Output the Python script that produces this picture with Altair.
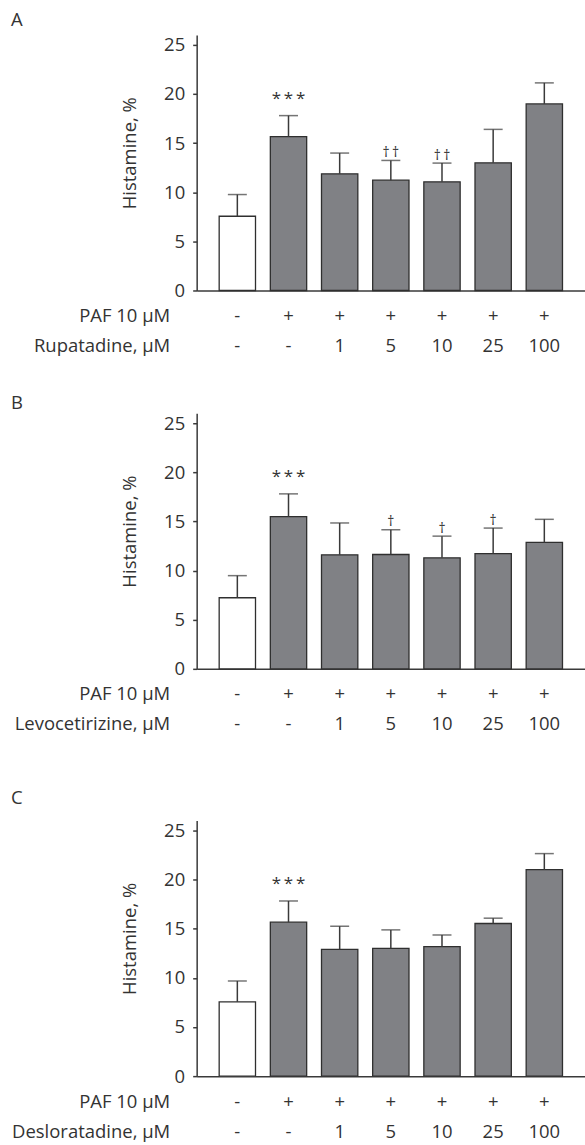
import altair as alt
import pandas as pd

FONT = "Open Sans"
FS = 18.5
TEXT = "#333333"
AXIS = "#3a3a3a"
BAR_FILL = "#808185"
CTRL_FILL = "#ffffff"
H = 256

# Treatment rows (shared by all panels)
paf_row = ["-", "+", "+", "+", "+", "+", "+"]
dose_row = ["-", "-", "1", "5", "10", "25", "100"]

# Panel A: Rupatadine
rupatadine_mean = [7.55, 15.65, 11.87, 11.22, 11.05, 12.99, 18.98]
rupatadine_err = [2.21, 2.14, 2.11, 2.01, 1.91, 3.40, 2.14]
rupatadine_stars = ["", "***", "", "", "", "", ""]
rupatadine_dagger = ["", "", "", "††", "††", "", ""]

# Panel B: Levocetirizine
levocetirizine_mean = [7.23, 15.48, 11.60, 11.63, 11.29, 11.73, 12.86]
levocetirizine_err = [2.25, 2.32, 3.24, 2.52, 2.21, 2.59, 2.35]
levocetirizine_stars = ["", "***", "", "", "", "", ""]
levocetirizine_dagger = ["", "", "", "†", "†", "†", ""]

# Panel C: Desloratadine
desloratadine_mean = [7.56, 15.66, 12.89, 13.00, 13.17, 15.53, 21.00]
desloratadine_err = [2.12, 2.16, 2.36, 1.88, 1.19, 0.54, 1.64]
desloratadine_stars = ["", "***", "", "", "", "", ""]
desloratadine_dagger = ["", "", "", "", "", "", ""]

y_ticks = [0, 5, 10, 15, 20, 25]


def panel(letter, drug, means, errs, stars, daggers, title_offset):
    cats = [f"{p}|{d}" for p, d in zip(paf_row, dose_row)]
    df = pd.DataFrame({
        "cat": cats,
        "mean": means,
        "top": [m + e for m, e in zip(means, errs)],
        "stars": [s.replace("*", "*\u2009").strip() for s in stars],
        "dagger": ["\u2009".join(list(d)) for d in daggers],
        "ctrl": [i == 0 for i in range(len(cats))],
    })
    x = alt.X(
        "cat:N",
        sort=cats,
        scale=alt.Scale(paddingInner=0.29, paddingOuter=0.44),
        axis=alt.Axis(
            title=["PAF 10 μM", f"{drug}, μM"],
            titleAngle=0, titleAlign="right", titleBaseline="top",
            titleX=-27, titleY=16, titleLineHeight=30,
            titleFontSize=FS, titleFontWeight="normal", titleFont=FONT, titleColor=TEXT,
            labelExpr="split(datum.label, '|')",
            labelAngle=0, labelLineHeight=30, labelBaseline="top", labelPadding=16,
            labelFontSize=FS, labelFont=FONT, labelColor=TEXT, labelOverlap=False,
            labelBound=False,
            ticks=False, tickSize=0,
            domainColor=AXIS, domainWidth=1.5, grid=False,
        ),
    )
    y_axis = alt.Axis(
        values=y_ticks, title="Histamine, %",
        titleX=-67, titleY=118, titleAlign="center", titleBaseline="middle",
        titleFontSize=FS, titleFontWeight="normal", titleFont=FONT, titleColor=TEXT,
        labelFontSize=FS, labelFont=FONT, labelColor=TEXT, labelPadding=8,
        labelFlush=False, labelOverlap=False,
        tickSize=4, tickColor=AXIS, tickWidth=1.5,
        domainColor=AXIS, domainWidth=1.5, grid=False,
    )
    base = alt.Chart(df)
    bars = base.mark_bar(stroke="#2f2f2f", strokeWidth=1.3).encode(
        x=x,
        y=alt.Y("mean:Q", scale=alt.Scale(domain=[0, 25]), axis=y_axis),
        fill=alt.condition("datum.ctrl", alt.value(CTRL_FILL), alt.value(BAR_FILL)),
    )
    rule = base.mark_rule(color=AXIS, strokeWidth=1.5).encode(
        x=alt.X("cat:N", sort=cats), y="mean:Q", y2="top:Q"
    )
    cap = base.mark_tick(color=AXIS, thickness=1.5, size=19).encode(
        x=alt.X("cat:N", sort=cats), y="top:Q"
    )
    star_txt = base.mark_text(
        font=FONT, fontSize=17, color=TEXT, baseline="alphabetic", dy=-12
    ).encode(x=alt.X("cat:N", sort=cats), y="top:Q", text="stars:N")
    dag_txt = base.mark_text(
        font=FONT, fontSize=14, color=TEXT, baseline="alphabetic", dy=-3.5
    ).encode(x=alt.X("cat:N", sort=cats), y="top:Q", text="dagger:N")
    return alt.layer(bars, rule, cap, star_txt, dag_txt).properties(
        width=389, height=H,
        title=alt.TitleParams(
            letter, anchor="start", frame="group", dx=-186, offset=title_offset,
            fontSize=FS, fontWeight="normal", font=FONT, color=TEXT,
            baseline="alphabetic",
        ),
    )


pa = panel("A", "Rupatadine", rupatadine_mean, rupatadine_err,
           rupatadine_stars, rupatadine_dagger, -10)
pb = panel("B", "Levocetirizine", levocetirizine_mean, levocetirizine_err,
           levocetirizine_stars, levocetirizine_dagger, -14)
pc = panel("C", "Desloratadine", desloratadine_mean, desloratadine_err,
           desloratadine_stars, desloratadine_dagger, -2)

chart = alt.vconcat(
    alt.vconcat(pa, pb, spacing=38), pc, spacing=55
).properties(
    padding={"left": 11, "top": 10, "right": 0, "bottom": 0},
    background="white",
).configure_view(stroke=None)

chart.save("out.html", embed_options={"renderer": "svg", "actions": False})
